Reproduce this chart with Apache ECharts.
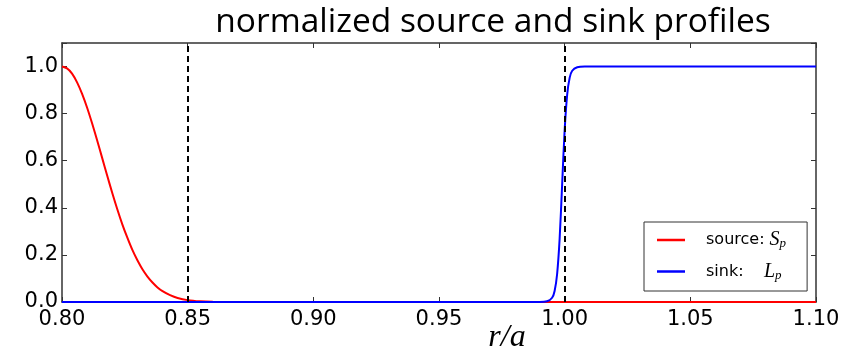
<!DOCTYPE html>
<html>
<head>
<meta charset="utf-8">
<script src="https://cdn.jsdelivr.net/npm/echarts@6/dist/echarts.min.js"></script>
<style>
  html, body { margin: 0; padding: 0; background: #fff; }
  #chart { width: 855px; height: 357px; }
</style>
</head>
<body>
<div id="chart"></div>
<script>
  // source profile S_p
  const sourceR = [0.800, 0.802, 0.804, 0.806, 0.808, 0.810, 0.812, 0.814, 0.816, 0.818,
    0.820, 0.822, 0.824, 0.826, 0.828, 0.830, 0.832, 0.834, 0.836, 0.838, 0.840,
    0.843, 0.846, 0.850, 0.855, 0.860, 0.870, 0.900, 1.000, 1.100]
  const sourceY = [1.000, 0.992, 0.970, 0.933, 0.884, 0.825, 0.758, 0.686, 0.611, 0.536,
    0.463, 0.394, 0.330, 0.273, 0.221, 0.177, 0.139, 0.108, 0.083, 0.062, 0.046,
    0.029, 0.017, 0.008, 0.003, 0.001, 0.000, 0.000, 0.000, 0.000]

  // sink profile L_p
  const sinkR = [0.800, 0.900, 0.990, 0.993, 0.995, 0.996, 0.997, 0.998, 0.999,
    1.000, 1.001, 1.002, 1.003, 1.005, 1.008, 1.050, 1.100]
  const sinkY = [0.000, 0.000, 0.000, 0.003, 0.018, 0.047, 0.119, 0.269, 0.500,
    0.731, 0.881, 0.953, 0.982, 0.997, 1.000, 1.000, 1.000]

  // dashed markers
  const markerR = [0.85, 1.00]

  const xTicks = [0.80, 0.85, 0.90, 0.95, 1.00, 1.05, 1.10]
  const yTicks = [0.0, 0.2, 0.4, 0.6, 0.8, 1.0]
  const yMax = 1.1

  const frame = '#333'
  const tickFont = { fontFamily: 'DejaVu Sans', fontSize: 21, color: '#000' }

  const myChart = echarts.init(document.getElementById('chart'), null, { renderer: 'canvas' })

  const axisCommon = {
    type: 'value',
    axisLine: { show: true, onZero: false, lineStyle: { color: frame, width: 1.5 } },
    axisTick: { show: true, inside: true, length: 5, lineStyle: { color: frame, width: 1 } },
    splitLine: { show: false }
  }

  const xBase = Object.assign({}, axisCommon, {
    min: xTicks[0],
    max: xTicks[xTicks.length - 1],
    interval: 0.05
  })
  const yBase = Object.assign({}, axisCommon, {
    min: yTicks[0],
    max: yMax,
    interval: 0.2
  })

  const option = {
    animation: false,
    title: [{
      text: 'normalized source and sink profiles',
      left: 488,
      top: 0,
      textAlign: 'center',
      textStyle: { fontFamily: 'Open Sans', fontSize: 33.5, fontWeight: 'normal', color: '#000' }
    }, {
      text: 'r/a',
      left: 502,
      top: 317,
      textAlign: 'center',
      textStyle: { fontFamily: 'Liberation Serif', fontStyle: 'italic', fontSize: 32, fontWeight: 'normal', color: '#000' }
    }],
    legend: {
      orient: 'vertical',
      left: 644,
      top: 222,
      padding: [8, 21, 9, 13],
      itemGap: 11,
      itemWidth: 28,
      itemHeight: 2.5,
      icon: 'rect',
      backgroundColor: '#fff',
      borderColor: frame,
      borderWidth: 1,
      data: ['source', 'sink'],
      formatter: function (name) {
        return name === 'source' ? '{a|source:} {m|S}{s|p}' : '{a|sink:}    {m|L}{s|p}'
      },
      textStyle: {
        fontFamily: 'DejaVu Sans', fontSize: 16, color: '#000',
        rich: {
          a: { fontFamily: 'DejaVu Sans', fontSize: 16, padding: [0, 0, 0, 16] },
          m: { fontFamily: 'Liberation Serif', fontStyle: 'italic', fontSize: 20 },
          s: { fontFamily: 'Liberation Serif', fontStyle: 'italic', fontSize: 13, padding: [8, 0, 0, 0] }
        }
      }
    },
    grid: { left: 62, right: 39, top: 43, bottom: 55 },
    xAxis: [
      Object.assign({}, xBase, {
        position: 'bottom',
        axisLabel: Object.assign({}, tickFont, {
          margin: 7,
          showMinLabel: true,
          showMaxLabel: true,
          formatter: v => v.toFixed(2)
        })
      }),
      Object.assign({}, xBase, { position: 'top', axisLabel: { show: false } })
    ],
    yAxis: [
      Object.assign({}, yBase, {
        position: 'left',
        axisLabel: Object.assign({}, tickFont, {
          margin: 4,
          formatter: v => (v > 1.05 ? '' : v.toFixed(1))
        })
      }),
      Object.assign({}, yBase, { position: 'right', axisLabel: { show: false } })
    ],
    series: [{
      name: 'source',
      type: 'line',
      smooth: 0.3,
      symbol: 'none',
      color: '#ff0000',
      lineStyle: { width: 2, color: '#ff0000' },
      data: sourceR.map((r, i) => [r, sourceY[i]]),
      z: 2
    }, {
      name: 'sink',
      type: 'line',
      smooth: 0.3,
      symbol: 'none',
      color: '#0000ff',
      lineStyle: { width: 2, color: '#0000ff' },
      data: sinkR.map((r, i) => [r, sinkY[i]]),
      z: 3
    }, {
      name: 'markers',
      type: 'line',
      data: [],
      markLine: {
        silent: true,
        symbol: ['none', 'none'],
        label: { show: false },
        lineStyle: { color: '#000', type: [6, 4], width: 2 },
        data: markerR.map(r => ({ xAxis: r }))
      },
      z: 4
    }]
  }

  myChart.setOption(option)
</script>
</body>
</html>
